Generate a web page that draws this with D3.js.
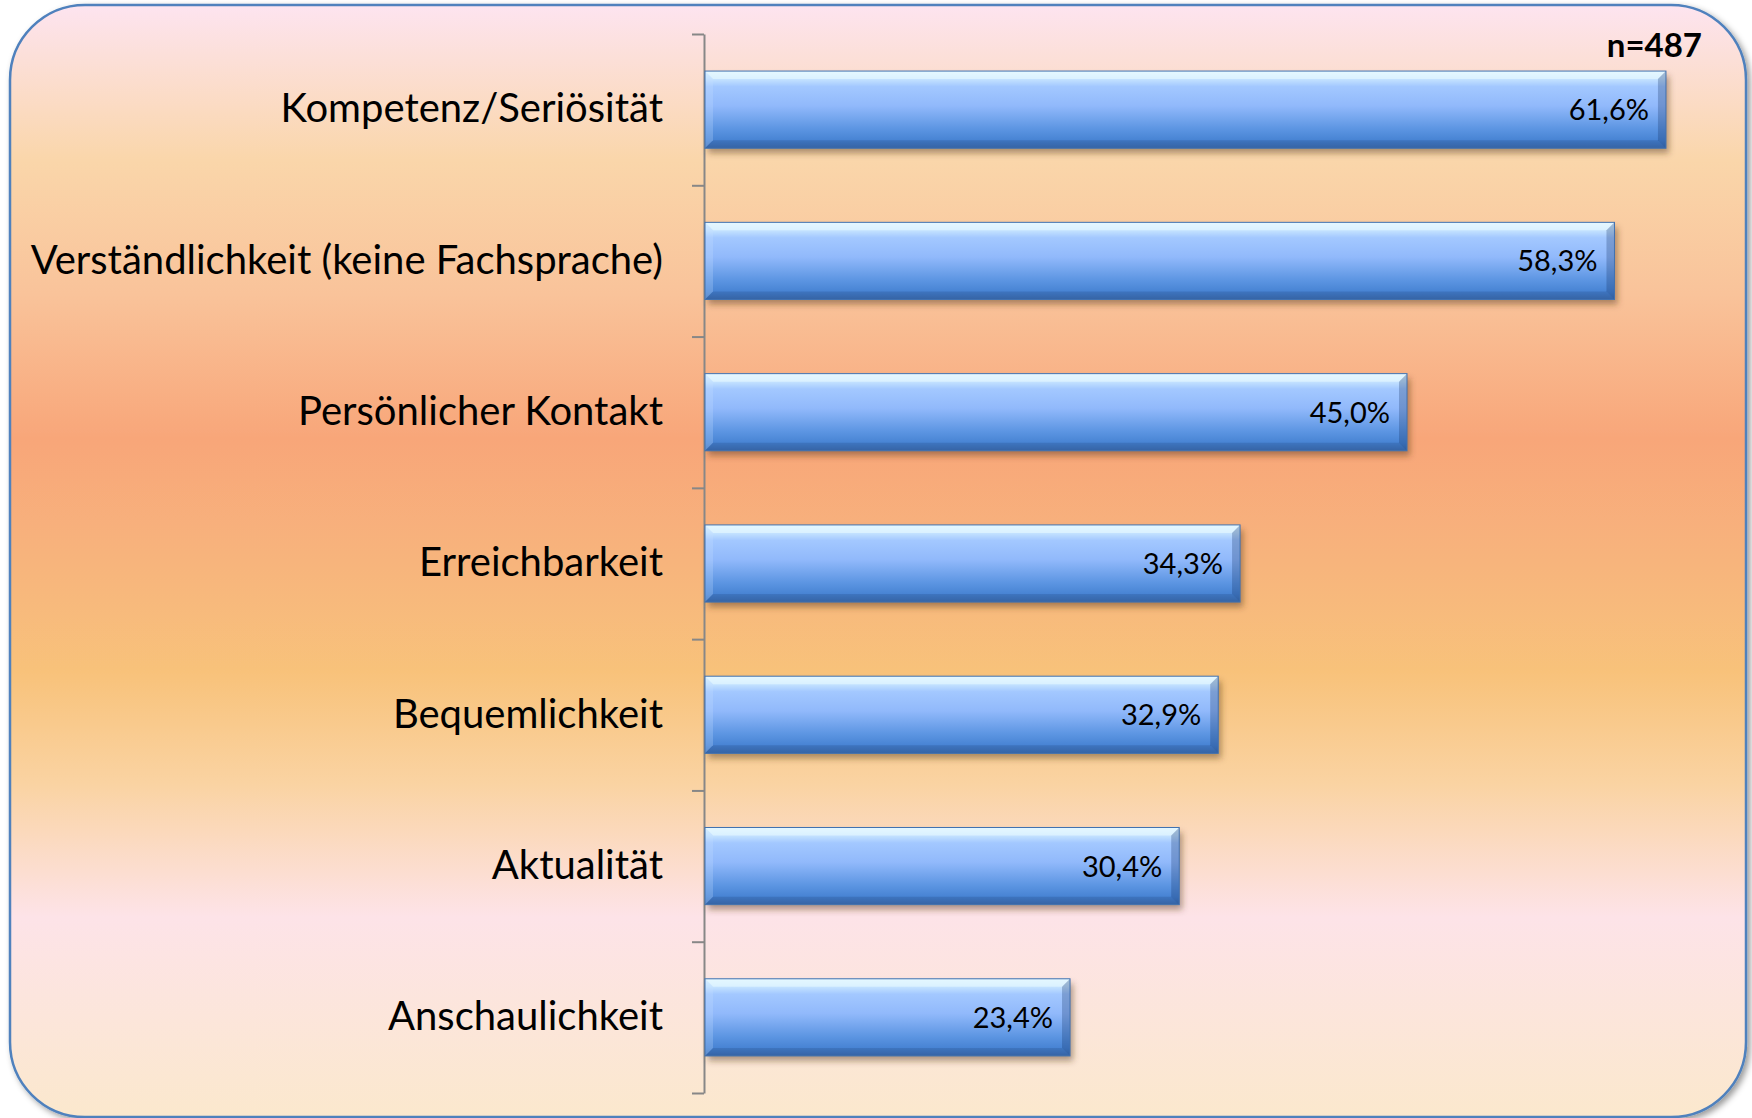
<!DOCTYPE html>
<html>
<head>
<meta charset="utf-8">
<script src="https://cdn.jsdelivr.net/npm/d3@7"></script>
<style>
  html, body { margin: 0; padding: 0; background: #fff; }
  svg { display: block; }
</style>
</head>
<body>
<div id="chart"></div>
<script>
// data
const categories = [
    "Kompetenz/Seriösität",
    "Verständlichkeit (keine Fachsprache)",
    "Persönlicher Kontakt",
    "Erreichbarkeit",
    "Bequemlichkeit",
    "Aktualität",
    "Anschaulichkeit"
];
const shares = [61.6, 58.3, 45.0, 34.3, 32.9, 30.4, 23.4];
const sampleLabel = "n=487";

const width = 1752, height = 1118;
const font = "Lato, 'Open Sans', sans-serif";

const svg = d3.select("#chart")
    .append("svg")
    .attr("width", width)
    .attr("height", height);

const defs = svg.append("defs");

// panel background
const bg = defs.append("linearGradient")
    .attr("id", "bgGrad")
    .attr("x1", 0).attr("y1", 0).attr("x2", 0).attr("y2", 1);
[
    [0.00, "#fde4f0"],
    [0.14, "#fad6aa"],
    [0.26, "#f9c39a"],
    [0.39, "#f8a679"],
    [0.50, "#f7b47c"],
    [0.60, "#f8c27a"],
    [0.70, "#fad3a2"],
    [0.82, "#fde3e8"],
    [1.00, "#fbe8cd"]
].forEach(s => bg.append("stop").attr("offset", s[0]).attr("stop-color", s[1]));

const panelShadow = defs.append("filter")
    .attr("id", "panelShadow")
    .attr("x", "-5%").attr("y", "-5%").attr("width", "110%").attr("height", "110%");
panelShadow.append("feDropShadow")
    .attr("dx", 3).attr("dy", 3).attr("stdDeviation", 3)
    .attr("flood-color", "#000").attr("flood-opacity", 0.4);

const barGrad = defs.append("linearGradient")
    .attr("id", "barGrad")
    .attr("x1", 0).attr("y1", 0).attr("x2", 0).attr("y2", 1);
[
    [0.00, "#dff4ff"],
    [0.10, "#c6e4ff"],
    [0.20, "#a3c8ff"],
    [0.45, "#91b9fb"],
    [0.75, "#5c95e2"],
    [0.90, "#4783d3"],
    [1.00, "#3d6fb3"]
].forEach(s => barGrad.append("stop").attr("offset", s[0]).attr("stop-color", s[1]));

const barShadow = defs.append("filter")
    .attr("id", "barShadow")
    .attr("x", "-5%").attr("y", "-30%").attr("width", "110%").attr("height", "160%");
barShadow.append("feGaussianBlur").attr("stdDeviation", 3);

svg.append("rect")
    .attr("x", 10)
    .attr("y", 5)
    .attr("width", 1736)
    .attr("height", 1112)
    .attr("rx", 75)
    .attr("fill", "url(#bgGrad)")
    .attr("stroke", "#4f81bd")
    .attr("stroke-width", 2.5)
    .attr("filter", "url(#panelShadow)");

// scales
const axisX = 704;
const y = d3.scaleBand()
    .domain(categories)
    .range([34, 1093])
    .paddingInner(0.49)
    .paddingOuter(0.245);

const edges = d3.scaleLinear()
    .domain([0, categories.length])
    .range([34, 1093]);

const x = d3.scaleLinear()
    .domain([0, 65])
    .range([axisX + 1, axisX + 1 + 65 * 15.6]);

// axis with ticks between categories
const axisG = svg.append("g")
    .attr("transform", `translate(${axisX},0)`)
    .call(d3.axisLeft(edges)
        .tickValues(d3.range(0, categories.length + 1))
        .tickFormat("")
        .tickSize(12)
        .tickSizeOuter(0));
axisG.selectAll("path, line")
    .attr("stroke", "#878787")
    .attr("stroke-width", 2);

// category labels
const labelG = svg.append("g")
    .attr("transform", `translate(${axisX},0)`)
    .call(d3.axisLeft(y).tickSize(0).tickPadding(41));
labelG.select(".domain").remove();
labelG.selectAll("text")
    .attr("fill", "#000")
    .style("font-family", font)
    .style("font-size", "40px");

// bars
const bev = 8;
const bars = svg.selectAll(".bar")
    .data(categories.map((c, i) => ({ cat: c, value: shares[i] })))
    .join("g")
    .attr("class", "bar");

bars.append("rect")
    .attr("x", x(0) + 3)
    .attr("y", d => y(d.cat) + 5)
    .attr("width", d => x(d.value) - x(0))
    .attr("height", y.bandwidth())
    .attr("fill", "rgba(80,50,20,0.45)")
    .attr("filter", "url(#barShadow)");

bars.append("rect")
    .attr("x", x(0))
    .attr("y", d => y(d.cat))
    .attr("width", d => x(d.value) - x(0))
    .attr("height", y.bandwidth())
    .attr("fill", "url(#barGrad)");

// bevel edges
bars.append("path")
    .attr("d", d => {
        const x0 = x(0), x1 = x(d.value), y0 = y(d.cat);
        return `M${x0},${y0}L${x1},${y0}L${x1 - bev},${y0 + bev}L${x0 + bev},${y0 + bev}Z`;
    })
    .attr("fill", "rgba(235,252,255,0.55)");

bars.append("path")
    .attr("d", d => {
        const x0 = x(0), y0 = y(d.cat), y1 = y0 + y.bandwidth();
        return `M${x0},${y0}L${x0 + bev},${y0 + bev}L${x0 + bev},${y1 - bev}L${x0},${y1}Z`;
    })
    .attr("fill", "rgba(200,225,255,0.25)");

bars.append("path")
    .attr("d", d => {
        const x1 = x(d.value), y0 = y(d.cat), y1 = y0 + y.bandwidth();
        return `M${x1},${y0}L${x1},${y1}L${x1 - bev},${y1 - bev}L${x1 - bev},${y0 + bev}Z`;
    })
    .attr("fill", "rgba(20,50,100,0.28)");

bars.append("path")
    .attr("d", d => {
        const x0 = x(0), x1 = x(d.value), y0 = y(d.cat), y1 = y0 + y.bandwidth();
        return `M${x0},${y1}L${x1},${y1}L${x1 - bev},${y1 - bev}L${x0 + bev},${y1 - bev}Z`;
    })
    .attr("fill", "rgba(20,50,100,0.18)");

bars.append("rect")
    .attr("x", x(0))
    .attr("y", d => y(d.cat))
    .attr("width", d => x(d.value) - x(0))
    .attr("height", y.bandwidth())
    .attr("fill", "none")
    .attr("stroke", "#4272b0")
    .attr("stroke-width", 1);

// value labels
bars.append("text")
    .attr("x", d => x(d.value) - 17)
    .attr("y", d => y(d.cat) + y.bandwidth() / 2)
    .attr("dy", "0.36em")
    .attr("text-anchor", "end")
    .style("font-family", font)
    .style("font-size", "29px")
    .attr("fill", "#000")
    .text(d => d3.format(".1f")(d.value).replace(".", ",") + "%");

svg.append("text")
    .attr("x", 1702)
    .attr("y", 57)
    .attr("text-anchor", "end")
    .style("font-family", font)
    .style("font-size", "33px")
    .style("font-weight", "bold")
    .attr("fill", "#000")
    .text(sampleLabel);
</script>
</body>
</html>
